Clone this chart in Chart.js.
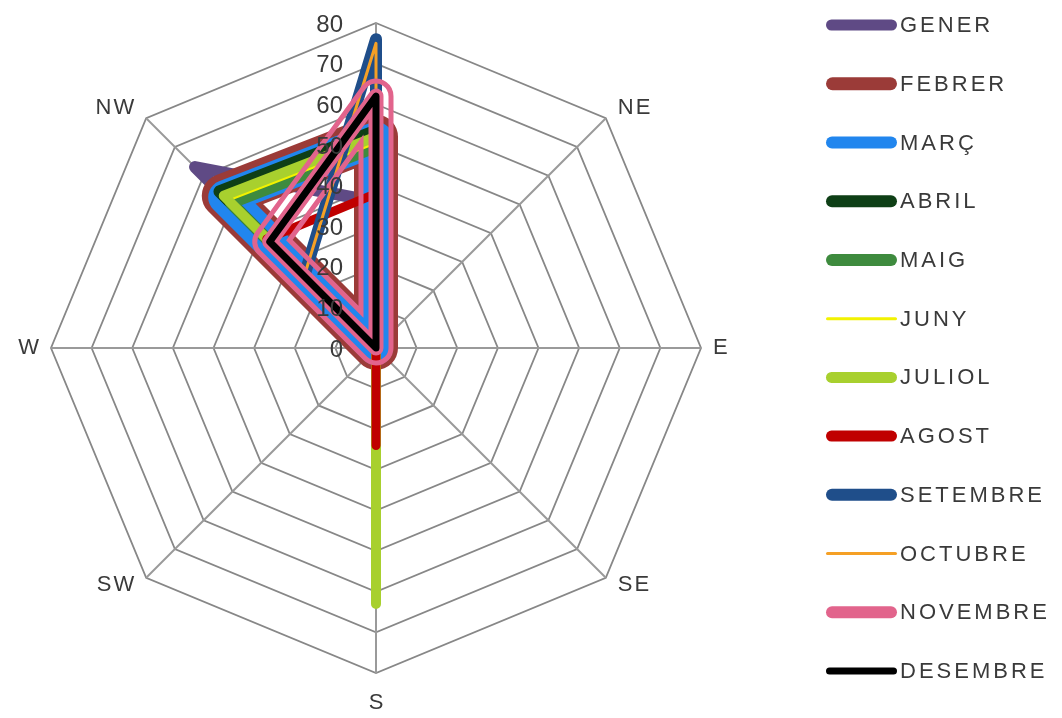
<!DOCTYPE html>
<html>
<head>
<meta charset="utf-8">
<script src="https://cdn.jsdelivr.net/npm/chart.js@4.4.1/dist/chart.umd.min.js"></script>
<style>
  html, body { margin: 0; padding: 0; background: #ffffff; overflow: hidden; }
  canvas { display: block; }
</style>
</head>
<body>
<canvas id="rosa" width="1062" height="718"></canvas>
<script>
// Wind directions (clockwise from the top)
const directions = ['N', 'NE', 'E', 'SE', 'S', 'SW', 'W', 'NW'];
const months = ['GENER', 'FEBRER', 'MARÇ', 'ABRIL', 'MAIG', 'JUNY', 'JULIOL', 'AGOST', 'SETEMBRE', 'OCTUBRE', 'NOVEMBRE', 'DESEMBRE'];

// Monthly frequency per direction: N, NE, E, SE, S, SW, W, NW
const gener    = [36,   0, 0, 0,  0, 0, 0, 63];
const febrer   = [52,   0, 0, 0,  0, 0, 0, 53];
const marc     = [51.5, 0, 0, 0,  0, 0, 0, 52.5];
const abril    = [53.5, 0, 0, 0,  0, 0, 0, 54.5];
const maig     = [49.5, 0, 0, 0,  0, 0, 0, 50.5];
const juny     = [50.5, 0, 0, 0,  0, 0, 0, 51.5];
const juliol   = [52,   0, 0, 0, 63, 0, 0, 53];
const agost    = [38,   0, 0, 0, 24, 0, 0, 38];
const setembre = [76,   0, 0, 0,  0, 0, 0, 25];
const octubre  = [75,   0, 0, 0,  0, 0, 0, 25];
const novembre = [62,   0, 0, 0,  0, 0, 0, 37];
const desembre = [62,   0, 0, 0,  0, 0, 0, 37];

const tickValues = [0, 10, 20, 30, 40, 50, 60, 70, 80];

const seriesValues = [gener, febrer, marc, abril, maig, juny, juliol, agost, setembre, octubre, novembre, desembre];

// Line styling per month
const lineColors = ['#5F4A85', '#9B3B38', '#2186EE', '#0E3F16', '#3E8B3E', '#F2F200',
                    '#A8D02E', '#C00000', '#1F4E8A', '#F5A025', '#E2648C', '#000000'];
const lineWidths = [12, 44, 34, 12, 12, 3, 10, 9, 12, 3, 35, 7];
const legendWidths = [11, 13, 12, 12, 12, 3, 11, 11, 12, 3, 12, 7];
// Compound (triple) stroke: outer width, gap width, inner width
const compoundLines = { NOVEMBRE: [35, 25, 15] };

const textColor = '#3a3a3a';
const fontFamily = '"Liberation Sans", Arial, sans-serif';

function tracePath(ctx, pts) {
  ctx.beginPath();
  pts.forEach((p, i) => (i ? ctx.lineTo(p.x, p.y) : ctx.moveTo(p.x, p.y)));
  ctx.closePath();
}

const compoundStroke = {
  id: 'compoundStroke',
  beforeDatasetDraw(chart, args) {
    const ds = chart.data.datasets[args.index];
    const spec = compoundLines[ds.label];
    if (!spec) return;
    const pts = args.meta.data;
    const off = document.createElement('canvas');
    off.width = chart.width;
    off.height = chart.height;
    const o = off.getContext('2d');
    o.lineJoin = 'round';
    o.lineCap = 'round';
    o.strokeStyle = ds.borderColor;
    tracePath(o, pts); o.lineWidth = spec[0]; o.stroke();
    o.globalCompositeOperation = 'destination-out';
    tracePath(o, pts); o.lineWidth = spec[1]; o.stroke();
    o.globalCompositeOperation = 'source-over';
    tracePath(o, pts); o.lineWidth = spec[2]; o.stroke();
    chart.ctx.drawImage(off, 0, 0);
    return false;
  }
};

const roseText = {
  id: 'roseText',
  afterDatasetsDraw(chart) {
    // value axis labels sit on top of the month lines
    const s = chart.scales.r;
    const ctx = chart.ctx;
    ctx.save();
    ctx.font = '24px ' + fontFamily;
    ctx.fillStyle = textColor;
    ctx.textAlign = 'right';
    ctx.textBaseline = 'middle';
    tickValues.forEach(v => {
      const y = s.yCenter - s.getDistanceFromCenterForValue(v);
      ctx.fillText(String(v), s.xCenter - 33, y + 2);
    });
    ctx.restore();
  },
  afterDraw(chart) {
    const s = chart.scales.r;
    const ctx = chart.ctx;
    ctx.save();
    // direction labels
    ctx.font = '22px ' + fontFamily;
    ctx.letterSpacing = '2px';
    ctx.fillStyle = textColor;
    ctx.textAlign = 'center';
    ctx.textBaseline = 'middle';
    directions.forEach((d, i) => {
      const p = s.getPointPosition(i, s.drawingArea);
      const cx = Math.cos(p.angle), sy = Math.sin(p.angle);
      const w = ctx.measureText(d).width;
      let x = p.x, y = p.y;
      if (Math.abs(cx) > 0.01) x += Math.sign(cx) * (11 + w / 2);
      if (Math.abs(cx) <= 0.01) y += Math.sign(sy) * 30;
      else if (Math.abs(sy) > 0.01) y += sy < 0 ? -10 : 7;
      ctx.fillText(d, x + 1, y);
    });
    // legend
    ctx.letterSpacing = '3px';
    ctx.textAlign = 'left';
    months.forEach((m, i) => {
      const y = 25 + i * 58.73;
      const lw = legendWidths[i];
      ctx.strokeStyle = lineColors[i];
      ctx.lineWidth = lw;
      ctx.lineCap = 'round';
      ctx.beginPath();
      ctx.moveTo(826 + lw / 2, y);
      ctx.lineTo(897 - lw / 2, y);
      ctx.stroke();
      ctx.fillStyle = textColor;
      ctx.fillText(m, 900, y + 1);
    });
    ctx.restore();
  }
};

new Chart(document.getElementById('rosa'), {
  type: 'radar',
  data: {
    labels: directions,
    datasets: months.map((m, i) => ({
      label: m,
      data: seriesValues[i],
      borderColor: lineColors[i],
      backgroundColor: 'transparent',
      borderWidth: lineWidths[i],
      borderJoinStyle: 'round',
      borderCapStyle: 'round',
      fill: false,
      tension: 0,
      pointRadius: 0,
      pointHoverRadius: 0,
      order: months.length - i,
      clip: false
    }))
  },
  options: {
    responsive: false,
    devicePixelRatio: 1,
    animation: false,
    events: [],
    layout: { padding: { left: 51, right: 360, top: 23, bottom: 45 } },
    plugins: { legend: { display: false }, tooltip: { enabled: false } },
    scales: {
      r: {
        min: 0,
        max: 80,
        ticks: { stepSize: 10, display: false },
        pointLabels: { display: false },
        grid: { color: '#878787', lineWidth: 1.8 },
        angleLines: { color: '#9a9a9a', lineWidth: 2 }
      }
    }
  },
  plugins: [compoundStroke, roseText]
});
</script>
</body>
</html>
